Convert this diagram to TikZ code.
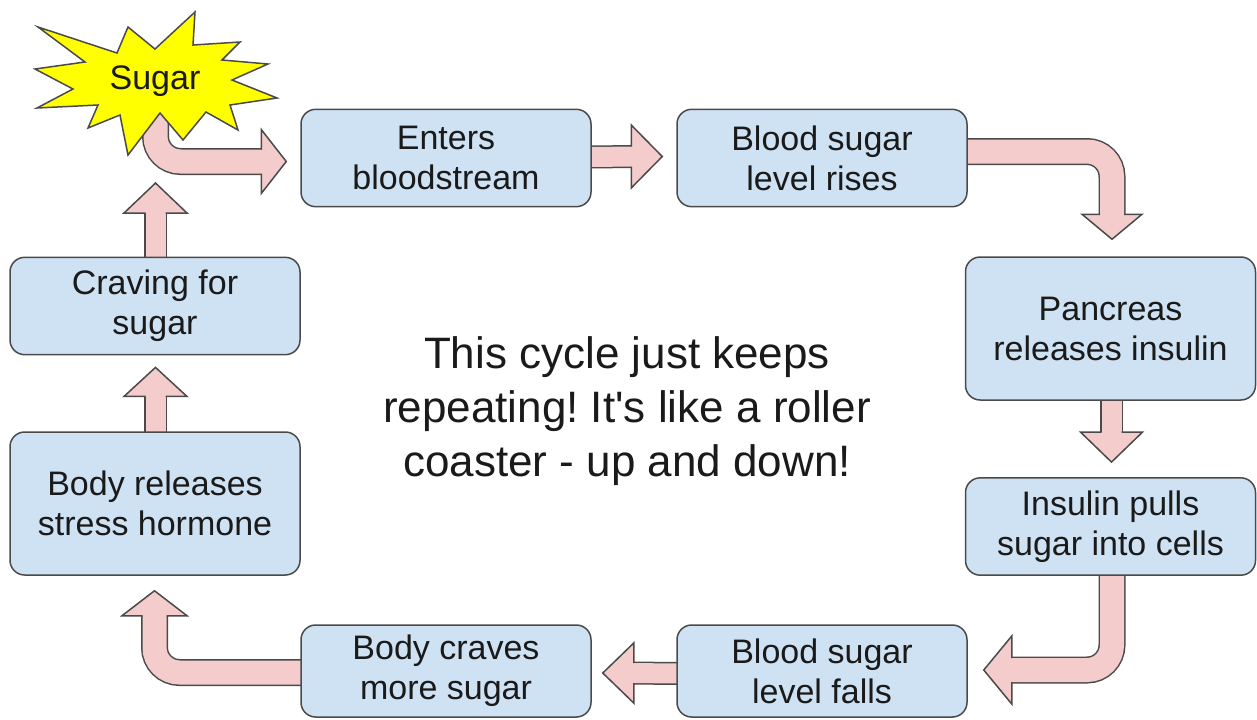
\documentclass[tikz,border=0pt]{standalone}
\usepackage{fontspec}
\setmainfont{Liberation Sans}
\usetikzlibrary{calc,backgrounds}
\frenchspacing
\definecolor{boxfill}{HTML}{CFE2F3}
\definecolor{bord}{HTML}{4A4A4A}
\definecolor{pinkc}{HTML}{F4CCCC}
\definecolor{burst}{HTML}{FFFF00}
\definecolor{txt}{HTML}{1A1A1A}
\newcommand\boxfont{\fontsize{25.5pt}{30pt}\selectfont}
\newcommand\notefont{\fontsize{33pt}{40.5pt}\selectfont}
% #1 base centre, #2 tip, #3 head half-width, #4 shaft half-width
\newcommand\arrhead[4]{%
  \fill[pinkc] ($(#1)!#3!90:(#2)$) -- (#2) -- ($(#1)!#3!-90:(#2)$) -- cycle;
  \draw[headline] ($(#1)!#4!90:(#2)$) -- ($(#1)!#3!90:(#2)$) -- (#2)
     -- ($(#1)!#3!-90:(#2)$) -- ($(#1)!#4!-90:(#2)$);
}
\begin{document}
\begin{tikzpicture}[x=0.75pt,y=-0.75pt,
  stepbox/.style={draw=bord, fill=boxfill, line width=1.125pt, rounded corners=11pt,
    minimum width=217.5pt, minimum height=73pt, inner sep=0pt, align=center,
    font=\boxfont, text=txt},
  tallbox/.style={stepbox, minimum height=107.25pt},
  lowbox/.style={stepbox, minimum height=69pt},
  headline/.style={draw=bord, line width=1.125pt, line join=miter},
  sbs/.style={draw=bord, line width=17.25pt},
  sfs/.style={draw=pinkc, line width=15pt},
  sbb/.style={draw=bord, line width=20.25pt, rounded corners=18.75pt},
  sfb/.style={draw=pinkc, line width=18pt, rounded corners=18.75pt},
  burststyle/.style={draw=bord, fill=burst, line width=1.125pt, line join=miter}]
\useasboundingbox (0,0) rectangle (1257,719);

% starburst
\draw[burststyle] (38,27) -- (117,53) -- (128,27) -- (155,49) -- (195,12) -- (193,45)
  -- (240,42) -- (222,60) -- (268,64) -- (232,80) -- (277,98) -- (230,105)
  -- (238,130) -- (206,112) -- (183,140) -- (160,113) -- (128,155) -- (120,115)
  -- (88,128) -- (98,105) -- (37,108) -- (73,89) -- (35,69) -- (85,62) -- cycle;
\node[font=\boxfont, text=txt, inner sep=0pt] (sugar) at (155,81) {Sugar};

% boxes
\node[stepbox] (enters) at (446,158) {Enters\\bloodstream};
\node[stepbox] (rises) at (822,158) {Blood sugar\\level rises};
\node[tallbox] (pancreas) at (1110.5,328.5) {Pancreas\\releases insulin};
\node[stepbox] (insulin) at (1110.5,526.5) {Insulin pulls\\sugar into cells};
\node[lowbox] (falls) at (822,671) {Blood sugar\\level falls};
\node[lowbox] (craves) at (446,671) {Body craves\\more sugar};
\node[tallbox] (stress) at (155,503.5) {Body releases\\stress hormone};
\node[stepbox] (craving) at (155,306) {Craving for\\sugar};

\node[font=\notefont, text=txt, align=center, inner sep=0pt] (note) at (627,411)
  {This cycle just keeps\\repeating! It\textquotesingle s like a roller\\coaster - up and down!};

\begin{pgfonlayer}{background}
% A1 sugar -> enters
\coordinate (a1s) at ($(sugar.center)+(0.5,29)$);
\coordinate (a1t) at ($(enters.west)+(-14,3.5)$);
\coordinate (a1b) at ($(a1t)+(-25,0)$);
\coordinate (a1e) at ($(a1b)!2pt!(a1t)$);
\draw[sbb] (a1s) |- (a1e);
\draw[sfb] (a1s) |- (a1e);
\arrhead{a1b}{a1t}{24pt}{9pt}
% A2 enters -> rises
\coordinate (a2s) at ($(enters.east)+(-2,-1)$);
\coordinate (a2t) at ($(rises.west)+(-14,-1.5)$);
\coordinate (a2b) at ($(a2t)+(-31,0)$);
\coordinate (a2e) at ($(a2b)!2pt!(a2t)$);
\draw[sbs] (a2s) -- (a2e);
\draw[sfs] (a2s) -- (a2e);
\arrhead{a2b}{a2t}{23.6pt}{7.5pt}
% A3 rises -> pancreas
\coordinate (a3s) at ($(rises.east)+(-2,-6.5)$);
\coordinate (a3t) at ($(pancreas.north)+(1.5,-17)$);
\coordinate (a3b) at ($(a3t)+(0,-25)$);
\coordinate (a3e) at ($(a3b)!2pt!(a3t)$);
\draw[sbb] (a3s) -| (a3e);
\draw[sfb] (a3s) -| (a3e);
\arrhead{a3b}{a3t}{22.5pt}{9pt}
% A4 pancreas -> insulin
\coordinate (a4s) at ($(pancreas.south)+(1,-2)$);
\coordinate (a4t) at ($(insulin.north)+(1,-15)$);
\coordinate (a4b) at ($(a4t)+(0,-30)$);
\coordinate (a4e) at ($(a4b)!2pt!(a4t)$);
\draw[sbs] (a4s) -- (a4e);
\draw[sfs] (a4s) -- (a4e);
\arrhead{a4b}{a4t}{23.25pt}{7.5pt}
% A5 insulin -> falls
\coordinate (a5s) at ($(insulin.south)+(1.5,-2)$);
\coordinate (a5t) at ($(falls.east)+(16,-1)$);
\coordinate (a5b) at ($(a5t)+(28,0)$);
\coordinate (a5e) at ($(a5b)!2pt!(a5t)$);
\draw[sbb] (a5s) |- (a5e);
\draw[sfb] (a5s) |- (a5e);
\arrhead{a5b}{a5t}{25.5pt}{9pt}
% A6 falls -> craves
\coordinate (a6s) at ($(falls.west)+(2,2.5)$);
\coordinate (a6t) at ($(craves.east)+(11,2)$);
\coordinate (a6b) at ($(a6t)+(31,0)$);
\coordinate (a6e) at ($(a6b)!2pt!(a6t)$);
\draw[sbs] (a6s) -- (a6e);
\draw[sfs] (a6s) -- (a6e);
\arrhead{a6b}{a6t}{22.5pt}{7.5pt}
% A7 craves -> stress
\coordinate (a7s) at ($(craves.west)+(2,1.5)$);
\coordinate (a7t) at ($(stress.south)+(-0.5,15)$);
\coordinate (a7b) at ($(a7t)+(0,25)$);
\coordinate (a7e) at ($(a7b)!2pt!(a7t)$);
\draw[sbb] (a7s) -| (a7e);
\draw[sfb] (a7s) -| (a7e);
\arrhead{a7b}{a7t}{24.4pt}{9pt}
% A8 stress -> craving
\coordinate (a8s) at ($(stress.north)+(0.5,2)$);
\coordinate (a8t) at ($(craving.south)+(0.5,12)$);
\coordinate (a8b) at ($(a8t)+(0,29)$);
\coordinate (a8e) at ($(a8b)!2pt!(a8t)$);
\draw[sbs] (a8s) -- (a8e);
\draw[sfs] (a8s) -- (a8e);
\arrhead{a8b}{a8t}{23.6pt}{7.5pt}
% A9 craving -> sugar
\coordinate (a9s) at ($(craving.north)+(0.5,2)$);
\coordinate (a9t) at ($(sugar.center)+(0.5,102)$);
\coordinate (a9b) at ($(a9t)+(0,30)$);
\coordinate (a9e) at ($(a9b)!2pt!(a9t)$);
\draw[sbs] (a9s) -- (a9e);
\draw[sfs] (a9s) -- (a9e);
\arrhead{a9b}{a9t}{23.6pt}{7.5pt}
\end{pgfonlayer}
\end{tikzpicture}
\end{document}
